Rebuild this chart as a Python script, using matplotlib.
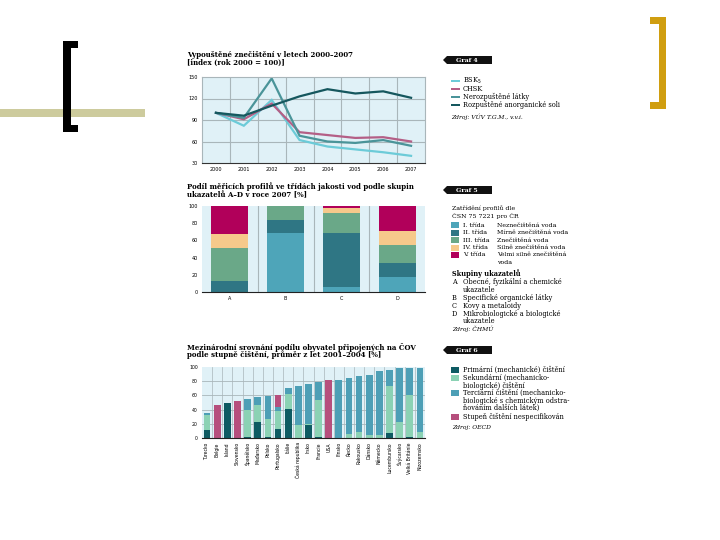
import numpy as np
import matplotlib
matplotlib.use("Agg")
from matplotlib import pyplot as plt
from matplotlib.patches import Polygon, Rectangle

# ---- Graf 4 data ----
years = ['2000', '2001', '2002', '2003', '2004', '2005', '2006', '2007']
bsk = [100, 82, 118, 62, 53, 49, 45, 40]
chsk = [100, 91, 113, 73, 69, 65, 66, 60]
nerozp = [100, 93, 148, 68, 60, 58, 62, 54]
rozp = [100, 96, 110, 123, 133, 127, 130, 121]
g4_names = ['BSK$_5$', 'CHSK', 'Nerozpuštěné látky', 'Rozpuštěné anorganické soli']

# ---- Graf 5 data ----
groups = ['A', 'B', 'C', 'D']
tr1 = [0, 69, 6, 17]
tr2 = [13, 15, 63, 17]
tr3 = [38, 16, 23, 21]
tr4 = [17, 0, 6, 16]
tr5 = [32, 0, 2, 29]
g5_classes = ['I. třída', 'II. třída', 'III. třída', 'IV. třída', 'V. třída']
g5_desc = ['Neznečištěná voda', 'Mírně znečištěná voda', 'Znečištěná voda',
           'Silně znečištěná voda', 'Velmi silně znečištěná']

# ---- Graf 6 data ----
countries = ['Turecko', 'Belgie', 'Island', 'Slovensko', 'Španělsko', 'Maďarsko',
             'Polsko', 'Portugalsko', 'Itálie', 'Česká republika', 'Irsko',
             'Francie', 'USA', 'Finsko', 'Řecko', 'Rakousko', 'Dánsko',
             'Německo', 'Lucembursko', 'Švýcarsko', 'Velká Británie', 'Nizozemsko']
primar = [11, 0, 49, 0, 1, 22, 2, 12, 41, 0, 18, 1, 0, 0, 0, 0, 0, 0, 7, 0, 1, 0]
sekund = [21, 0, 1, 0, 38, 24, 25, 26, 21, 18, 2, 53, 0, 0, 6, 9, 4, 4, 66, 22, 60, 9]
tercia = [3, 0, 0, 0, 16, 12, 32, 5, 9, 55, 56, 25, 0, 81, 79, 78, 85, 91, 23, 76, 37, 90]
nespec = [0, 46, 0, 52, 0, 0, 0, 18, 0, 0, 0, 0, 81, 0, 0, 0, 0, 0, 0, 0, 0, 0]

W, H = 720, 540
fig = plt.figure(figsize=(7.2, 5.4), dpi=100)
fig.patch.set_facecolor('white')
SERIF = 'DejaVu Serif'


def box(x0, y0, x1, y1):
    # pixel box (top-left origin) -> figure fraction
    return [x0 / W, 1 - y1 / H, (x1 - x0) / W, (y1 - y0) / H]


def ftxt(x, y, s, size=5, **kw):
    kw.setdefault('family', SERIF)
    fig.text(x / W, 1 - y / H, s, fontsize=size, va='center', ha='left', **kw)


def frect(x0, y0, x1, y1, color):
    fig.patches.append(Rectangle((x0 / W, 1 - y1 / H), (x1 - x0) / W, (y1 - y0) / H,
                                 transform=fig.transFigure, color=color, lw=0))


def tag(y, label):
    pts = [(443, y), (447, y - 4), (492, y - 4), (492, y + 4), (447, y + 4)]
    fig.patches.append(Polygon([(px / W, 1 - py / H) for px, py in pts],
                               closed=True, transform=fig.transFigure,
                               color='#111111', lw=0))
    ftxt(456, y, label, size=4.5, color='white', weight='bold')


# decorations
frect(0, 109, 145, 117, '#cdcb9d')
frect(63, 41, 71, 132, 'black')
frect(63, 41, 78, 48, 'black')
frect(63, 125, 78, 132, 'black')
gold = '#d09e10'
frect(659, 17, 666, 109, gold)
frect(650, 17, 666, 24, gold)
frect(650, 102, 666, 109, gold)

BG = '#e0f1f7'
GRID = '#a9b6ba'

# ---------------- Graf 4 ----------------
ax4 = fig.add_axes(box(202, 77, 425, 163))
ax4.set_facecolor(BG)
x = np.arange(len(years))
cols4 = ['#6ccbd8', '#b45f86', '#4a9499', '#15575e']
for vals, c in zip([bsk, chsk, nerozp, rozp], cols4):
    ax4.plot(x, vals, color=c, lw=1.6, solid_joinstyle='miter')
ax4.set_xlim(-0.5, 7.5)
ax4.set_ylim(30, 150)
ax4.set_yticks([30, 60, 90, 120, 150])
ax4.set_xticks(x)
ax4.set_xticklabels(years)
for v in [60, 90, 120]:
    ax4.axhline(v, color=GRID, lw=0.8, zorder=0)
for v in np.arange(0.5, 7, 1):
    ax4.axvline(v, color=GRID, lw=0.8, zorder=0)
ax4.tick_params(length=0, labelsize=3.5, pad=3)
for s in ax4.spines.values():
    s.set_color(GRID)
    s.set_linewidth(0.8)
ax4.spines['bottom'].set_color('#333333')

ftxt(187, 55, 'Vypouštěné znečištění v letech 2000–2007', size=5, weight='bold')
ftxt(187, 63, '[index (rok 2000 = 100)]', size=5, weight='bold')

tag(60, 'Graf 4')
ys4 = [81, 89, 97, 105]
for yy, c, nm in zip(ys4, cols4, g4_names):
    frect(451, yy - 1.2, 460, yy + 1.2, c)
    ftxt(463, yy, nm, size=4.8)
ftxt(451, 117, 'Zdroj: VÚV T.G.M., v.v.i.', size=4.3, style='italic')

# ---------------- Graf 5 ----------------
ax5 = fig.add_axes(box(202, 206, 425, 292))
ax5.set_facecolor(BG)
cols5 = ['#4ea5b9', '#2f7684', '#6aa888', '#f6c98b', '#b1005a']
bottom = np.zeros(len(groups))
for vals, c in zip([tr1, tr2, tr3, tr4, tr5], cols5):
    ax5.bar(np.arange(len(groups)), vals, 0.66, bottom=bottom, color=c, lw=0, zorder=2)
    bottom += np.array(vals)
ax5.set_xlim(-0.5, 3.5)
ax5.set_ylim(0, 100)
ax5.set_yticks([0, 20, 40, 60, 80, 100])
ax5.set_xticks(np.arange(len(groups)))
ax5.set_xticklabels(groups)
for v in [0.5, 1.5, 2.5]:
    ax5.axvline(v, color=GRID, lw=0.8, zorder=1)
ax5.tick_params(length=0, labelsize=3.5, pad=3)
for k in ['top', 'left', 'right']:
    ax5.spines[k].set_visible(False)
ax5.spines['bottom'].set_color('#222222')
ax5.spines['bottom'].set_linewidth(0.8)

ftxt(187, 187, 'Podíl měřicích profilů ve třídách jakosti vod podle skupin', size=5, weight='bold')
ftxt(187, 195, 'ukazatelů A–D v roce 2007 [%]', size=5, weight='bold')

tag(190, 'Graf 5')
ftxt(452, 208, 'Zatřídění profilů dle', size=4.5)
ftxt(452, 215.5, 'ČSN 75 7221 pro ČR', size=4.5)
ys5 = [225, 232.5, 240, 247.5, 255]
for yy, c, cl, ds in zip(ys5, cols5, g5_classes, g5_desc):
    frect(451, yy - 3, 459, yy + 3, c)
    ftxt(463, yy, cl, size=4.5)
    ftxt(497, yy, ds, size=4.5)
ftxt(497, 263, 'voda', size=4.5)
ftxt(452, 274, 'Skupiny ukazatelů', size=4.8, weight='bold')
grp_rows = [('A', 'Obecné, fyzikální a chemické', 282), ('', 'ukazatele', 290),
            ('B', 'Specifické organické látky', 298), ('C', 'Kovy a metaloidy', 306),
            ('D', 'Mikrobiologické a biologické', 313.5), ('', 'ukazatele', 321)]
for g, ds, yy in grp_rows:
    ftxt(452, yy, g, size=4.8)
    ftxt(463, yy, ds, size=4.8)
ftxt(452, 329, 'Zdroj: ČHMÚ', size=4.3, style='italic')

# ---------------- Graf 6 ----------------
ax6 = fig.add_axes(box(202, 367, 425, 438))
ax6.set_facecolor(BG)
cols6 = ['#0e5b63', '#8bd2b4', '#4d9fb6', '#b64f7d']
xc = np.arange(len(countries))
bottom = np.zeros(len(countries))
for vals, c in zip([primar, sekund, tercia, nespec], cols6):
    ax6.bar(xc, vals, 0.66, bottom=bottom, color=c, lw=0, zorder=2)
    bottom += np.array(vals)
ax6.set_xlim(-0.5, 21.5)
ax6.set_ylim(0, 100)
ax6.set_yticks([0, 20, 40, 60, 80, 100])
ax6.set_xticks(xc)
ax6.set_xticklabels(countries, rotation=90)
for v in [20, 40, 60, 80]:
    ax6.axhline(v, color=GRID, lw=0.6, zorder=1)
for v in np.arange(0.5, 21, 1):
    ax6.axvline(v, color=GRID, lw=0.5, zorder=1)
ax6.tick_params(length=0, labelsize=3.3, pad=3)
for k in ['top', 'left', 'right']:
    ax6.spines[k].set_visible(False)
ax6.spines['bottom'].set_color('#222222')
ax6.spines['bottom'].set_linewidth(0.8)

ftxt(187, 347, 'Mezinárodní srovnání podílu obyvatel připojených na ČOV', size=5, weight='bold')
ftxt(187, 355, 'podle stupně čištění, průměr z let 2001–2004 [%]', size=5, weight='bold')

tag(350, 'Graf 6')
leg6 = [(cols6[0], ['Primární (mechanické) čištění'], 370),
        (cols6[1], ['Sekundární (mechanicko-', 'biologické) čištění'], 378),
        (cols6[2], ['Terciární čištění (mechanicko-', 'biologické s chemickým odstra-',
                    'ňováním dalších látek)'], 393),
        (cols6[3], ['Stupeň čištění nespecifikován'], 416.5)]
for c, lines, yy in leg6:
    frect(451, yy - 3, 459, yy + 3, c)
    for i, ln in enumerate(lines):
        ftxt(463, yy + i * 7.6, ln, size=4.8)
ftxt(452, 428, 'Zdroj: OECD', size=4.3, style='italic')

fig.savefig('out.png', dpi=100)
